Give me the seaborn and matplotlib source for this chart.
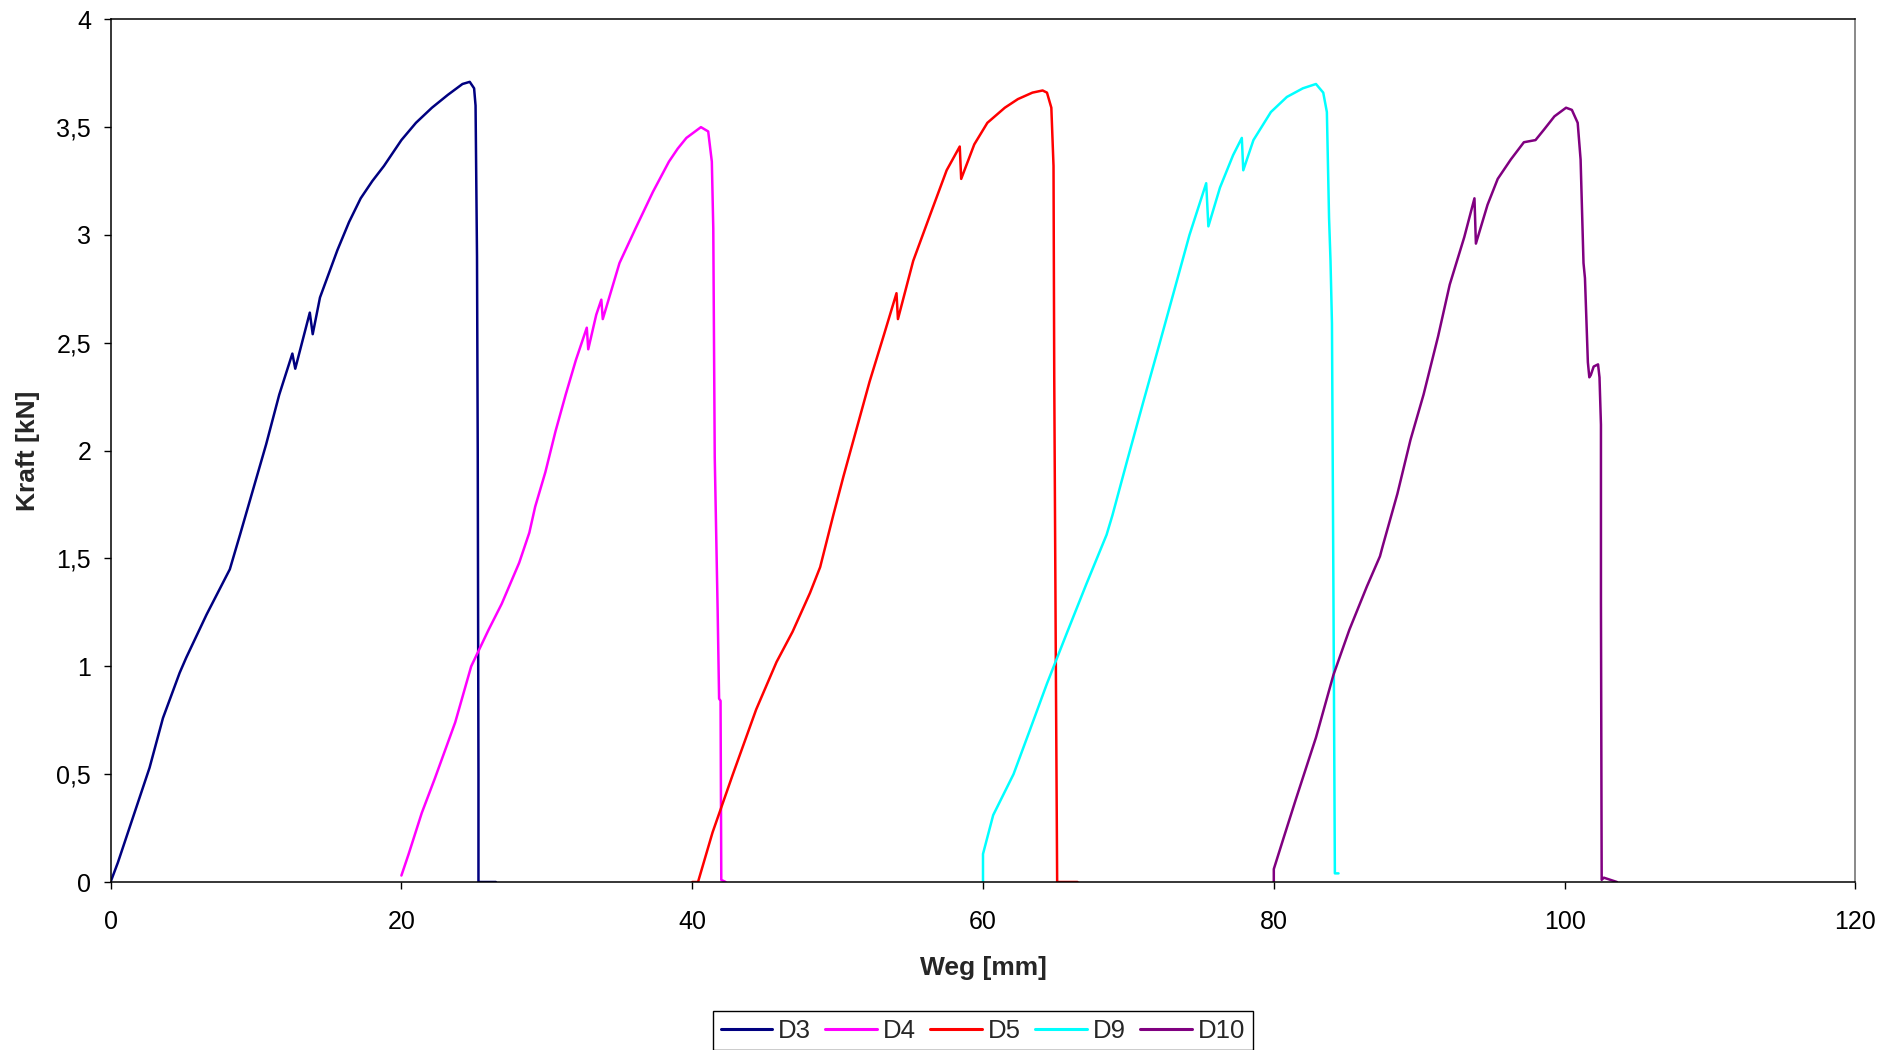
import numpy as np
import pandas as pd
import matplotlib
matplotlib.use("Agg")
import matplotlib.pyplot as plt
from matplotlib.ticker import FuncFormatter
import seaborn as sns

# ---------------- data ----------------
series_names = ["D3", "D4", "D5", "D9", "D10"]
series_colors = ["#000080", "#FF00FF", "#FF0000", "#00FFFF", "#800080"]

d3_weg = [0, 0.5, 1.54, 2.68, 3.6, 4.75, 5.2, 6.6, 8.2, 8.9, 9.8, 10.7, 11.6, 12.5, 12.7,
          13.7, 13.9, 14.4, 15.6, 16.4, 17.2, 18.0, 18.8, 20.0, 21.0, 22.1, 23.2, 24.2, 24.7,
          25.0, 25.1, 25.2, 25.25, 25.3, 25.3, 26.5]
d3_kraft = [0, 0.09, 0.30, 0.53, 0.76, 0.97, 1.04, 1.24, 1.45, 1.61, 1.82, 2.03, 2.26, 2.45, 2.38,
            2.64, 2.54, 2.71, 2.93, 3.06, 3.17, 3.25, 3.32, 3.44, 3.52, 3.59, 3.65, 3.70, 3.71,
            3.68, 3.60, 2.90, 2.0, 0.5, 0, 0]

d4_weg = [20.0, 20.1, 20.5, 21.4, 22.3, 23.7, 24.8, 26.0, 26.9, 28.1, 28.8, 29.2, 29.9, 30.6,
          31.3, 32.0, 32.75, 32.85, 33.4, 33.75, 33.85, 35.0, 36.1, 37.3, 38.4, 39.0, 39.6, 40.6,
          41.1, 41.35, 41.45, 41.55, 41.75, 41.85, 41.95, 42.0, 42.3]
d4_kraft = [0.03, 0.05, 0.13, 0.32, 0.48, 0.74, 1.00, 1.17, 1.29, 1.48, 1.62, 1.74, 1.90, 2.09,
            2.26, 2.42, 2.57, 2.47, 2.63, 2.70, 2.61, 2.87, 3.03, 3.20, 3.34, 3.40, 3.45, 3.50,
            3.48, 3.34, 3.03, 1.97, 1.26, 0.85, 0.84, 0.01, 0]

d5_weg = [40.0, 40.4, 41.4, 42.8, 44.4, 45.8, 46.9, 48.1, 48.8, 49.7, 50.4, 51.3, 52.2, 53.2,
          54.05, 54.15, 55.2, 56.4, 57.5, 58.4, 58.5, 59.4, 60.3, 61.5, 62.4, 63.4, 64.1,
          64.4, 64.7, 64.85, 64.9, 65.0, 65.1, 66.5]
d5_kraft = [0, 0, 0.23, 0.50, 0.80, 1.02, 1.16, 1.34, 1.46, 1.70, 1.88, 2.10, 2.32, 2.54,
            2.73, 2.61, 2.88, 3.10, 3.30, 3.41, 3.26, 3.42, 3.52, 3.59, 3.63, 3.66, 3.67,
            3.66, 3.59, 3.32, 2.34, 1.12, 0, 0]

d9_weg = [60.0, 60.0, 60.7, 62.1, 63.2, 64.4, 65.8, 67.1, 68.5, 68.9, 69.9, 71.0, 72.2, 73.1,
          74.2, 75.35, 75.5, 76.3, 77.2, 77.8, 77.9, 78.6, 79.8, 80.9, 82.0, 82.9, 83.4,
          83.65, 83.8, 83.9, 84.0, 84.1, 84.2, 84.45]
d9_kraft = [0, 0.13, 0.31, 0.50, 0.70, 0.92, 1.16, 1.38, 1.61, 1.70, 1.95, 2.22, 2.51, 2.73,
            3.00, 3.24, 3.04, 3.22, 3.37, 3.45, 3.30, 3.44, 3.57, 3.64, 3.68, 3.70, 3.66,
            3.57, 3.08, 2.88, 2.59, 1.36, 0.04, 0.04]

d10_weg = [80.0, 80.0, 80.7, 81.5, 82.9, 84.1, 85.2, 86.4, 87.3, 87.5, 88.5, 89.4, 90.3, 91.3,
           92.1, 93.1, 93.8, 93.9, 94.7, 95.4, 96.3, 97.2, 98.0, 98.6, 99.3, 100.1, 100.5,
           100.9, 101.1, 101.3, 101.4, 101.6, 101.7, 101.8, 102.0, 102.3, 102.4, 102.5,
           102.5, 102.55, 102.7, 103.6]
d10_kraft = [0, 0.06, 0.21, 0.38, 0.67, 0.96, 1.17, 1.37, 1.51, 1.56, 1.80, 2.05, 2.26, 2.53,
             2.77, 2.99, 3.17, 2.96, 3.14, 3.26, 3.35, 3.43, 3.44, 3.49, 3.55, 3.59, 3.58,
             3.52, 3.35, 2.87, 2.80, 2.41, 2.34, 2.35, 2.39, 2.40, 2.34, 2.12,
             1.30, 0.01, 0.02, 0]

x_ticks = [0, 20, 40, 60, 80, 100, 120]
y_ticks = [0, 0.5, 1, 1.5, 2, 2.5, 3, 3.5, 4]

# ---------------- build long-form table ----------------
frames = []
for name, w, k in zip(series_names,
                      [d3_weg, d4_weg, d5_weg, d9_weg, d10_weg],
                      [d3_kraft, d4_kraft, d5_kraft, d9_kraft, d10_kraft]):
    frames.append(pd.DataFrame({"Weg": w, "Kraft": k, "Probe": name}))
df = pd.concat(frames, ignore_index=True)

# ---------------- style ----------------
sns.set_style("white")
plt.rcParams["font.family"] = ["Liberation Sans", "DejaVu Sans"]

W, H = 1883, 1050
fig = plt.figure(figsize=(W / 100, H / 100), dpi=100)
ax = fig.add_axes([110.6 / W, 1 - 882 / H, (1855.4 - 110.6) / W, (882 - 19.3) / H])

palette = dict(zip(series_names, series_colors))
sns.lineplot(data=df, x="Weg", y="Kraft", hue="Probe", hue_order=series_names,
             palette=palette, sort=False, estimator=None, linewidth=1.8, ax=ax)

ax.set_xlim(0, 120)
ax.set_ylim(0, 4)
ax.set_xticks(x_ticks)
ax.set_yticks(y_ticks)
ax.yaxis.set_major_formatter(FuncFormatter(lambda v, p: (f"{v:g}").replace(".", ",")))
ax.xaxis.set_major_formatter(FuncFormatter(lambda v, p: f"{v:g}"))

ax.tick_params(axis="both", which="major", direction="out", length=5, width=1,
               color="black", labelsize=18, labelcolor="black")
ax.tick_params(axis="x", pad=15)
ax.tick_params(axis="y", pad=9)
ax.xaxis.set_ticks_position("bottom")
ax.yaxis.set_ticks_position("left")

for s in ["left", "bottom", "top"]:
    ax.spines[s].set_color("black")
    ax.spines[s].set_linewidth(1.1)
ax.spines["right"].set_color("#808080")
ax.spines["right"].set_linewidth(1.3)

ax.set_xlabel("Weg [mm]", fontsize=19, fontweight="bold", labelpad=16)
ax.set_ylabel("Kraft [kN]", fontsize=19, fontweight="bold", labelpad=12)

handles, labels = ax.get_legend_handles_labels()
if ax.get_legend() is not None:
    ax.get_legend().remove()
leg = fig.legend(handles, labels, loc="upper center",
                 bbox_to_anchor=(983 / W, 1 - 1011 / H), ncol=5,
                 frameon=True, fancybox=False, edgecolor="black", framealpha=1,
                 fontsize=18.5, handlelength=2.0, handletextpad=0.25,
                 columnspacing=0.55, borderpad=0.3, borderaxespad=0)
leg.get_frame().set_linewidth(1.0)
for l in leg.get_lines():
    l.set_linewidth(2.2)

fig.savefig("out.png", dpi=100, facecolor="white")
